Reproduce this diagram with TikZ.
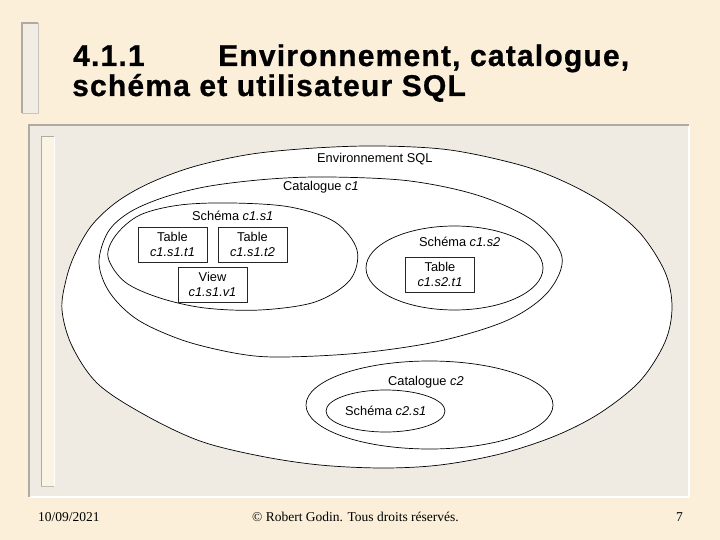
\documentclass[tikz,border=0pt]{standalone}
\usepackage{fontspec}
\setmainfont{Liberation Serif}
\newfontfamily\diagfont{Liberation Sans}
\newfontfamily\titlefont[LetterSpace=4,FakeBold=0.8]{Liberation Sans}
\usetikzlibrary{shapes.geometric}
\definecolor{parch}{HTML}{FBEFD9}
\definecolor{panelfill}{HTML}{EFEBE3}
\definecolor{panelgrey}{HTML}{B1AAA0}
\definecolor{barfill}{HTML}{F2EDE4}
\definecolor{innerbar}{HTML}{FBF3E4}
\tikzset{
  ell/.style={ellipse, draw=black, line width=0.7pt, inner sep=0pt, outer sep=0pt},
  contour/.style={draw=black, line width=0.7pt},
  tbox/.style={draw=black!85, line width=0.6pt, fill=white, minimum width=69pt, minimum height=35pt,
    inner sep=0pt, align=center, font=\diagfont\fontsize{12.8}{15}\selectfont},
  lbl/.style={inner sep=0pt, anchor=base west, font=\diagfont\fontsize{12.8}{15}\selectfont},
  ttl/.style={inner sep=0pt, anchor=base west, font=\titlefont\bfseries\fontsize{30}{36}\selectfont},
  foot/.style={inner sep=0pt, anchor=base west, font=\fontsize{13.5}{16}\selectfont}
}
\begin{document}
\begin{tikzpicture}[x=1pt,y=-1pt]
\fill[parch] (0,0) rectangle (720,540);
\useasboundingbox (0,0) rectangle (720,540);
% title bar
\fill[barfill] (22,23) rectangle (38,113);
\draw[panelgrey, line width=1.5pt] (22,113) -- (22,23) -- (38,23);
\draw[panelgrey!70, line width=0.8pt] (38,23) -- (38,113) -- (22,113);
% panel
\fill[panelfill] (29,125) rectangle (689,497);
\draw[white, line width=2pt] (29,497) -- (689,497) -- (689,125);
\draw[panelgrey, line width=2pt] (29,497) -- (29,125) -- (689,125);
\fill[innerbar] (41,137) rectangle (54,486);
\draw[panelgrey, line width=1pt] (41,486) -- (41,137) -- (54,137);
\draw[white, line width=1pt] (54,137) -- (54,486);
\draw[panelgrey!80, line width=1pt] (54,486) -- (41,486);
% environment SQL (outer contour)
\draw[contour, fill=white] plot[smooth cycle, tension=0.55] coordinates {
  (62,310) (66,280) (75,254) (92,225) (118,201) (152,182) (196,166) (252,154)
  (315,148) (380,146) (450,150) (520,165) (565,182) (605,204) (640,233) (665,272)
  (672,307) (665,342) (640,381) (600,413) (555,436) (500,454) (440,465)
  (383,468) (320,465) (260,456) (200,441) (145,415) (98,384) (72,346)};
\coordinate (env) at (367,307);
% catalogue c1
\draw[contour] plot[smooth cycle, tension=0.55] coordinates {
  (99,263) (108,232) (130,212) (165,197) (210,186) (270,179) (330,177)
  (410,181) (480,196) (535,222) (562,257) (548,292) (508,320) (440,341)
  (360,353) (283,357) (240,354) (185,341) (138,320) (110,293)};
\coordinate (cat1) at (330,264);
% schema c1.s1
\draw[contour] plot[smooth cycle, tension=0.55] coordinates {
  (108,257) (116,235) (140,215) (180,205) (232,203) (290,207) (335,222)
  (357,250) (350,280) (315,302) (260,310) (205,308) (160,298) (125,282)};
\coordinate (s11) at (231,257);
% other schemas and catalogue c2
\node[ell, minimum width=177pt, minimum height=84pt] (s12) at (454.5,268) {};
\node[ell, minimum width=247pt, minimum height=88pt] (cat2) at (429.5,405) {};
\node[ell, minimum width=119pt, minimum height=42pt] (s21) at (385.5,411) {};
% boxes
\node[tbox] (t1) at (172.5,244.5) {Table\\\textit{c1.s1.t1}};
\node[tbox] (t2) at (252.5,244.5) {Table\\\textit{c1.s1.t2}};
\node[tbox] (v1) at (212.5,284.5) {View\\\textit{c1.s1.v1}};
\node[tbox] (t3) at (440,274.5) {Table\\\textit{c1.s2.t1}};
% labels
\node[lbl] (lenv) at (317,163) {Environnement SQL};
\node[lbl] (lcat1) at (283,191) {Catalogue \textit{c1}};
\node[lbl] (ls11) at (192,221) {Schéma \textit{c1.s1}};
\node[lbl] (ls12) at (419,247) {Schéma \textit{c1.s2}};
\node[lbl] (lcat2) at (388,385) {Catalogue \textit{c2}};
\node[lbl] (ls21) at (345,415) {Schéma \textit{c2.s1}};
% title
\node[ttl] (tnum) at (73,66) {4.1.1};
\node[ttl] (t1a) at (218,66) {Environnement, catalogue,};
\node[ttl] (t1b) at (72,96) {schéma et utilisateur SQL};
% footer
\node[foot] (date) at (38,521) {10/09/2021};
\node[foot] (copy) at (252,521) {© Robert Godin. Tous droits réservés.};
\node[foot] (page) at (676,521) {7};
\end{tikzpicture}
\end{document}
